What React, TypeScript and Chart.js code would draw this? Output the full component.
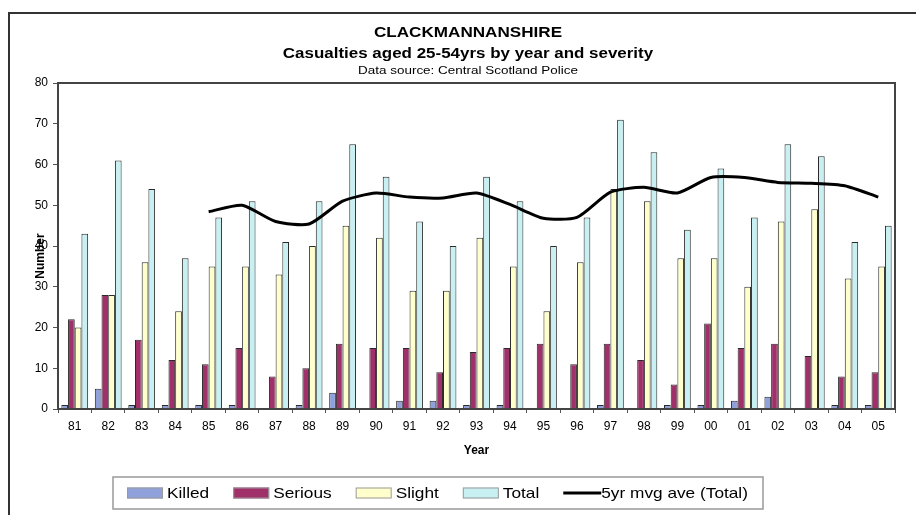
import React, { useEffect, useRef } from 'react';
import { Chart, registerables } from 'chart.js';

Chart.register(...registerables);

const years = ['81', '82', '83', '84', '85', '86', '87', '88', '89', '90', '91', '92', '93', '94', '95', '96', '97', '98', '99', '00', '01', '02', '03', '04', '05'];
const killed = [1, 5, 1, 1, 1, 1, 0, 1, 4, 0, 2, 2, 1, 1, 0, 0, 1, 0, 1, 1, 2, 3, 0, 1, 1];
const serious = [22, 28, 17, 12, 11, 15, 8, 10, 16, 15, 15, 9, 14, 15, 16, 11, 16, 12, 6, 21, 15, 16, 13, 8, 9];
const slight = [20, 28, 36, 24, 35, 35, 33, 40, 45, 42, 29, 29, 42, 35, 24, 36, 54, 51, 37, 37, 30, 46, 49, 32, 35];
const total = [43, 61, 54, 37, 47, 51, 41, 51, 65, 57, 46, 40, 57, 51, 40, 47, 71, 63, 44, 59, 47, 65, 62, 41, 45];
const movingAvg = [null, null, null, null, 48.4, 50, 46, 45.4, 51, 53, 52, 51.8, 53, 50.2, 46.8, 47, 53.2, 54.4, 53, 56.8, 56.8, 55.6, 55.4, 54.8, 52];
const yTicks = [0, 10, 20, 30, 40, 50, 60, 70, 80];

const titleLines = ['CLACKMANNANSHIRE', 'Casualties aged 25-54yrs by year and severity'];
const sourceLine = 'Data source: Central Scotland Police';

const FONT = '"Liberation Sans", Arial, sans-serif';

// draw text stretched horizontally (the original picture is widened)
function stretchText(ctx: CanvasRenderingContext2D, text: string, x: number, y: number, font: string, sx: number, align: CanvasTextAlign) {
  ctx.save();
  ctx.font = font;
  ctx.textAlign = align;
  ctx.textBaseline = 'middle';
  ctx.translate(x, y);
  ctx.scale(sx, 1);
  ctx.fillText(text, 0, 0);
  ctx.restore();
}

const framePlugin = {
  id: 'frame',
  beforeDraw(chart: any) {
    const { ctx } = chart;
    ctx.save();
    ctx.fillStyle = '#ffffff';
    ctx.fillRect(0, 0, chart.width, chart.height);
    ctx.strokeStyle = '#333333';
    ctx.lineWidth = 2;
    ctx.beginPath();
    ctx.moveTo(9, chart.height + 5);
    ctx.lineTo(9, 13);
    ctx.lineTo(chart.width + 5, 13);
    ctx.stroke();
    ctx.restore();
  },
  afterDraw(chart: any) {
    const { ctx, chartArea } = chart;
    ctx.save();
    // titles
    const cx = 468;
    ctx.fillStyle = '#000';
    stretchText(ctx, titleLines[0], cx, 33, `bold 15px ${FONT}`, 1.14, 'center');
    stretchText(ctx, titleLines[1], cx, 54, `bold 15px ${FONT}`, 1.13, 'center');
    stretchText(ctx, sourceLine, cx, 70.5, `11.5px ${FONT}`, 1.17, 'center');

    // plot area border
    ctx.strokeStyle = '#444444';
    ctx.lineWidth = 2;
    ctx.strokeRect(chartArea.left, chartArea.top, chartArea.right - chartArea.left, chartArea.bottom - chartArea.top);

    // y axis title (overlapping tick labels like the original)
    ctx.save();
    ctx.translate(41, (chartArea.top + chartArea.bottom) / 2 + 10);
    ctx.rotate(-Math.PI / 2);
    ctx.fillStyle = '#000';
    ctx.font = `bold 12px ${FONT}`;
    ctx.textAlign = 'center';
    ctx.textBaseline = 'middle';
    ctx.fillText('Number', 0, 0);
    ctx.restore();

    // legend
    const boxLeft = 113, boxTop = 477, boxW = 650, boxH = 32;
    ctx.fillStyle = '#ffffff';
    ctx.fillRect(boxLeft, boxTop, boxW, boxH);
    ctx.strokeStyle = '#999999';
    ctx.lineWidth = 1.5;
    ctx.strokeRect(boxLeft, boxTop, boxW, boxH);
    const lf = `15px ${FONT}`;
    const lsx = 1.15;
    const cy = boxTop + boxH / 2;
    let x = boxLeft + 14;
    chart.data.datasets.forEach((ds: any) => {
      if (ds.type === 'line') {
        ctx.strokeStyle = ds.borderColor;
        ctx.lineWidth = 3;
        ctx.beginPath();
        ctx.moveTo(x, cy);
        ctx.lineTo(x + 38, cy);
        ctx.stroke();
        x += 38;
      } else {
        ctx.fillStyle = ds.backgroundColor;
        ctx.fillRect(x, cy - 5.5, 36, 11);
        ctx.strokeStyle = '#9a9a9a';
        ctx.lineWidth = 1;
        ctx.strokeRect(x + 0.5, cy - 5, 35, 10);
        x += 40;
      }
      ctx.fillStyle = '#000';
      stretchText(ctx, ds.label, x, cy + 1, lf, lsx, 'left');
      ctx.font = lf;
      x += ctx.measureText(ds.label).width * lsx + 24;
    });
    ctx.restore();
  },
};

export default function App() {
  const ref = useRef<HTMLCanvasElement | null>(null);

  useEffect(() => {
    if (!ref.current) return;
    const barCommon = {
      type: 'bar' as const,
      borderColor: '#2a2a2a',
      borderWidth: 1,
      order: 2,
      categoryPercentage: 0.8,
      barPercentage: 1.0,
    };
    const chart = new Chart(ref.current, {
      type: 'bar',
      data: {
        labels: years,
        datasets: [
          { ...barCommon, label: 'Killed', data: killed, backgroundColor: '#8FA0DA' },
          { ...barCommon, label: 'Serious', data: serious, backgroundColor: '#A0306A' },
          { ...barCommon, label: 'Slight', data: slight, backgroundColor: '#FFFFCC' },
          { ...barCommon, label: 'Total', data: total, backgroundColor: '#C8F0F2' },
          {
            type: 'line' as const,
            label: '5yr mvg ave (Total)',
            data: movingAvg as any,
            borderColor: '#000000',
            backgroundColor: '#000000',
            borderWidth: 3,
            pointRadius: 0,
            tension: 0.22,
            order: 1,
          } as any,
        ],
      },
      options: {
        responsive: false,
        animation: false,
        layout: { padding: { left: 8, right: 21, top: 83, bottom: 36 } },
        plugins: {
          legend: { display: false },
          tooltip: { enabled: false },
          title: { display: false },
        },
        scales: {
          x: {
            offset: true,
            grid: { display: true, drawOnChartArea: false, drawTicks: true, tickLength: 4, color: '#555', offset: true },
            border: { display: true, color: '#444', width: 2 },
            ticks: { color: '#000', font: { family: FONT, size: 12 }, padding: 6, maxRotation: 0, autoSkip: false },
            title: {
              display: true,
              text: 'Year',
              color: '#000',
              font: { family: FONT, size: 12, weight: 'bold', lineHeight: 1.2 },
              padding: { top: 0, bottom: 21 },
            },
            afterFit(scale: any) {
              scale.height = 70;
            },
          },
          y: {
            min: 0,
            max: 80,
            afterBuildTicks(scale: any) {
              scale.ticks = yTicks.map((v) => ({ value: v }));
            },
            grid: { display: true, drawOnChartArea: false, drawTicks: true, tickLength: 5, color: '#555' },
            border: { display: true, color: '#444', width: 2 },
            ticks: { color: '#000', font: { family: FONT, size: 12 }, padding: 5 },
            afterFit(scale: any) {
              scale.width = 50;
            },
          },
        },
      },
      plugins: [framePlugin],
    });
    return () => chart.destroy();
  }, []);

  return (
    <canvas
      ref={ref}
      width={916}
      height={515}
      style={{ position: 'fixed', left: 0, top: 0, width: 916, height: 515 }}
    />
  );
}
